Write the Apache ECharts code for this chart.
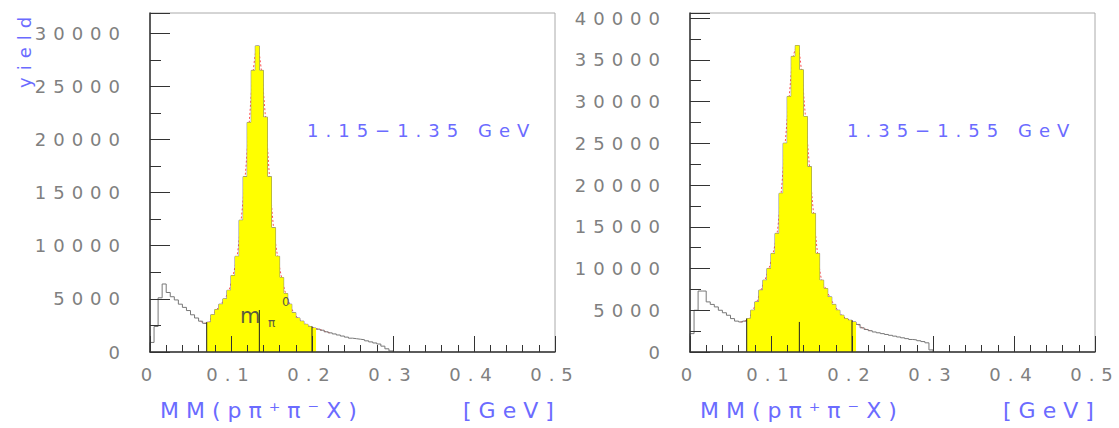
<!DOCTYPE html>
<html>
<head>
<meta charset="utf-8">
<script src="https://cdn.jsdelivr.net/npm/echarts@6/dist/echarts.min.js"></script>
<style>
    html, body { margin: 0; padding: 0; background: #fff; }
    #chart { width: 1119px; height: 428px; }
    /* the original plot has very wide-set lettering */
    #chart text { letter-spacing: 7px; }
</style>
</head>
<body>
<div id="chart"></div>
<script>
// histogram bins: 0.005 GeV wide, starting at 0
const binWidth = 0.005;
// 1.15-1.35 GeV
const leftCounts = [
    900, 2400, 5100, 6400, 5600, 5200, 4900, 4500, 4200, 3900,
    3500, 3200, 2900, 2700, 2800, 3500, 4000, 4500, 5000, 5800,
    7200, 9000, 12400, 16500, 21600, 26500, 28800, 26500, 22100, 16500,
    11700, 9000, 7000, 5500, 4500, 3700, 3200, 2900, 2600, 2400,
    2250, 2150, 2050, 1900, 1800, 1700, 1600, 1500, 1400, 1300,
    1250, 1200, 1150, 1050, 950, 850, 750, 550, 300, 100
];
// 1.35-1.55 GeV
const rightCounts = [
    2200, 5000, 7300, 7300, 6000, 5700, 5400, 5000, 4700, 4400,
    4000, 3700, 3600, 3700, 4000, 5000, 6000, 7400, 8600, 10000,
    11800, 14200, 19000, 25000, 30600, 35400, 36700, 33800, 28200, 22200,
    16600, 11800, 8600, 7600, 6600, 5700, 5000, 4400, 4000, 3800,
    3600, 3300, 2900, 2700, 2550, 2400, 2300, 2200, 2100, 2000,
    1900, 1800, 1700, 1600, 1500, 1450, 1350, 1250, 1100, 250
];
const panelCounts = [leftCounts, rightCounts];
const panelTitles = ['1.15\u22121.35 GeV', '1.35\u22121.55 GeV'];
const yMax = [31900, 40600];
const xTickLabels = ['0', '0.1', '0.2', '0.3', '0.4', '0.5'];
// yellow signal window and pi0 mass marker
const cutLow = 0.07;
const cutHigh = 0.2;
const pi0Mass = 0.135;
const pi0LineTop = [3950, 3600];

const gridLeft = [150, 690];
const font = '"DejaVu Sans ExtraLight", "DejaVu Sans"';
const blue = '#6b6bff';

function binIndex(x) {
    return Math.round(x / binWidth);
}

// points for a step:'end' line covering bins [from, to)
function stepPoints(counts, from, to) {
    const pts = [];
    for (let i = from; i < to; i++) {
        pts.push([i * binWidth, counts[i]]);
    }
    pts.push([to * binWidth, counts[to - 1]]);
    return pts;
}

const chart = echarts.init(document.getElementById('chart'), null, { renderer: 'svg' });

const grids = [], xAxes = [], yAxes = [], series = [], graphics = [];

panelCounts.forEach(function (counts, p) {
    grids.push({
        left: gridLeft[p], top: 13, width: 405, height: 339,
        show: true, borderColor: '#aaa', borderWidth: 1
    });
    xAxes.push({
        gridIndex: p, type: 'value', min: 0, max: 0.5, interval: 0.1, z: 10,
        axisLine: { onZero: false, lineStyle: { color: '#333', width: 1.5 } },
        axisTick: { inside: true, length: 16, lineStyle: { color: '#333' } },
        minorTick: { show: true, splitNumber: 5, length: 7, lineStyle: { color: '#333' } },
        splitLine: { show: false },
        axisLabel: {
            color: '#808080', fontSize: 18, fontFamily: font, margin: 13,
            formatter: function (v) { return xTickLabels[Math.round(v * 10)]; }
        }
    });
    yAxes.push({
        gridIndex: p, type: 'value', min: 0, max: yMax[p], interval: 5000, z: 10,
        axisLine: { show: true, onZero: false, lineStyle: { color: '#333', width: 1.5 } },
        axisTick: { inside: true, length: 20, lineStyle: { color: '#333' } },
        minorTick: { show: true, splitNumber: 2, length: 11, lineStyle: { color: '#333' } },
        splitLine: { show: false },
        axisLabel: {
            color: '#808080', fontSize: 18, fontFamily: font, margin: 23, showMaxLabel: false,
            formatter: function (v) { return String(v); }
        }
    });

    const n = counts.length;
    const lo = binIndex(cutLow);
    const hi = binIndex(cutHigh) + 1;

    // fit curve (red dashes peeking out from under the yellow)
    const fitPts = [];
    for (let i = 12; i <= 44; i++) {
        fitPts.push([(i + 0.5) * binWidth, counts[i]]);
    }
    series.push({
        type: 'line', xAxisIndex: p, yAxisIndex: p, data: fitPts, smooth: 0.3,
        symbol: 'none', z: 1, silent: true,
        lineStyle: { color: '#ff5050', width: 1, type: [2, 2] }
    });
    // full histogram outline
    series.push({
        type: 'line', xAxisIndex: p, yAxisIndex: p, step: 'end',
        data: [[0, 0]].concat(stepPoints(counts, 0, n), [[n * binWidth, 0]]),
        symbol: 'none', z: 2, silent: true,
        lineStyle: { color: '#777', width: 1 }
    });
    // yellow signal region, drawn over the outline
    series.push({
        type: 'line', xAxisIndex: p, yAxisIndex: p, step: 'end',
        data: stepPoints(counts, lo, hi), symbol: 'none', z: 3, silent: true,
        lineStyle: { width: 0 },
        areaStyle: { color: '#ffff00', opacity: 1 }
    });
    // window edges
    [cutLow, cutHigh].forEach(function (x) {
        const i = binIndex(x);
        const h = Math.max(counts[i - 1], counts[i]);
        series.push({
            type: 'line', xAxisIndex: p, yAxisIndex: p, data: [[x, 0], [x, h]],
            symbol: 'none', z: 4, silent: true,
            lineStyle: { color: '#222', width: 1 }
        });
    });
    // pi0 mass marker
    series.push({
        type: 'line', xAxisIndex: p, yAxisIndex: p, data: [[pi0Mass, 0], [pi0Mass, pi0LineTop[p]]],
        symbol: 'none', z: 4, silent: true,
        lineStyle: { color: '#222', width: 1 }
    });

    // range title
    graphics.push({
        type: 'text', x: gridLeft[p] + 157, y: 130,
        style: { text: panelTitles[p], fill: blue, font: '18px ' + font, textVerticalAlign: 'middle' }
    });
    // x axis title
    graphics.push({
        type: 'text', x: gridLeft[p] + 10, y: 410,
        style: { text: 'MM(p\u03c0\u207a\u03c0\u207bX)', fill: blue, font: '22px ' + font, textVerticalAlign: 'middle' }
    });
    graphics.push({
        type: 'text', x: gridLeft[p] + 313, y: 410,
        style: { text: '[GeV]', fill: blue, font: '22px ' + font, textVerticalAlign: 'middle' }
    });
});

// y axis title, only on the left panel
graphics.push({
    type: 'text', x: 24, y: 88, rotation: Math.PI / 2,
    style: { text: 'yield', fill: blue, font: '18px ' + font, textVerticalAlign: 'middle' }
});
// m_pi0 label
graphics.push({
    type: 'text', x: 240, y: 316, z: 20,
    style: { text: 'm', fill: '#5b5b40', font: '21px ' + font, textVerticalAlign: 'middle' }
});
graphics.push({
    type: 'text', x: 268, y: 323, z: 20,
    style: { text: '\u03c0', fill: '#5b5b40', font: '12px ' + font, textVerticalAlign: 'middle' }
});
graphics.push({
    type: 'text', x: 282, y: 302, z: 20,
    style: { text: '0', fill: '#5b5b40', font: '12px ' + font, textVerticalAlign: 'middle' }
});

chart.setOption({
    animation: false,
    grid: grids,
    xAxis: xAxes,
    yAxis: yAxes,
    series: series,
    graphic: graphics
});
</script>
</body>
</html>
